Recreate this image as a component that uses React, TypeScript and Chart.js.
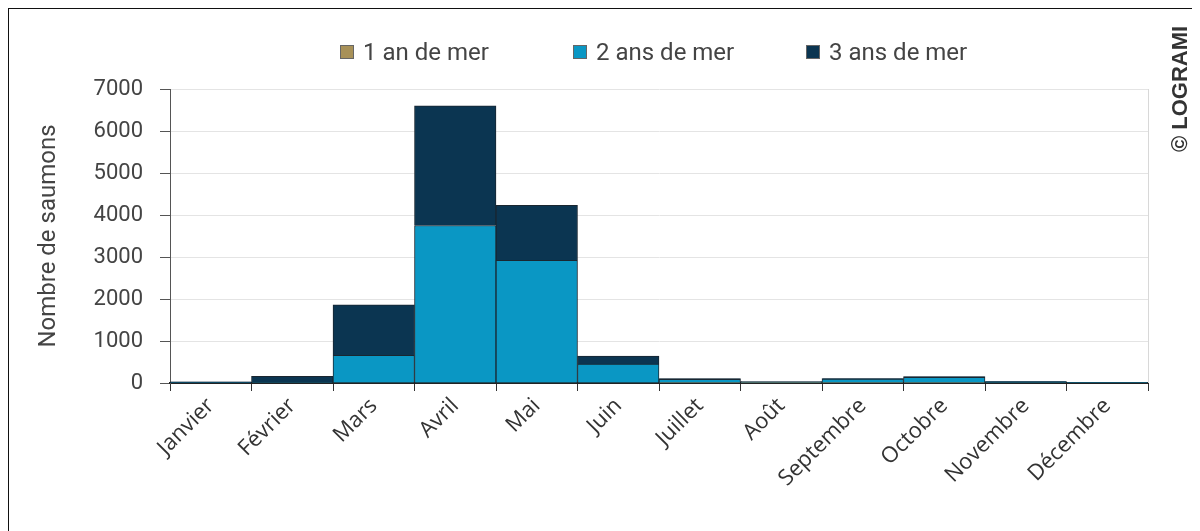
import React, { useEffect, useRef } from "react";
import { Chart, registerables } from "chart.js";

Chart.register(...registerables);

const months = [
  "Janvier", "Février", "Mars", "Avril", "Mai", "Juin",
  "Juillet", "Août", "Septembre", "Octobre", "Novembre", "Décembre",
];
const seriesNames = ["1 an de mer", "2 ans de mer", "3 ans de mer"];
const oneSeaWinter = [0, 0, 0, 0, 0, 0, 5, 5, 5, 5, 0, 0];
const twoSeaWinters = [10, 10, 660, 3750, 2920, 450, 80, 20, 90, 130, 30, 5];
const threeSeaWinters = [20, 150, 1200, 2850, 1310, 190, 20, 10, 10, 15, 10, 5];
const seriesColors = ["#a89158", "#0a97c4", "#0b3551"];
const yMax = 7000;
const yStep = 1000;

const plotBorderPlugin = {
  id: "plotRightBorder",
  beforeDatasetsDraw(chart: any) {
    const { ctx, chartArea } = chart;
    ctx.save();
    ctx.strokeStyle = "#d8d8d8";
    ctx.lineWidth = 1;
    ctx.beginPath();
    ctx.moveTo(chartArea.right + 0.5, chartArea.top);
    ctx.lineTo(chartArea.right + 0.5, chartArea.bottom);
    ctx.stroke();
    ctx.restore();
  },
};

export default function App() {
  const canvasRef = useRef<HTMLCanvasElement | null>(null);

  useEffect(() => {
    if (!canvasRef.current) return;
    const values = [oneSeaWinter, twoSeaWinters, threeSeaWinters];
    const chart = new Chart(canvasRef.current, {
      type: "bar",
      data: {
        labels: months,
        datasets: values.map((v, i) => ({
          label: seriesNames[i],
          data: v,
          backgroundColor: seriesColors[i],
          borderColor: "#1a2630",
          borderWidth: 1,
          barPercentage: 1,
          categoryPercentage: 1,
        })),
      },
      options: {
        responsive: false,
        animation: false,
        layout: { padding: { left: 20, top: 80, right: 50, bottom: 0 } },
        plugins: {
          legend: { display: false },
          tooltip: { enabled: false },
        },
        scales: {
          x: {
            stacked: true,
            grid: {
              display: true,
              drawOnChartArea: false,
              offset: true,
              tickLength: 8,
              tickColor: "#333",
              color: "#333",
            },
            border: { display: true, color: "#222", width: 2 },
            ticks: {
              maxRotation: 45,
              minRotation: 45,
              padding: 2,
              color: "#333",
              font: { family: "'Open Sans', sans-serif", size: 22 },
            },
            afterFit(scale: any) {
              scale.height = 186;
            },
          },
          y: {
            stacked: true,
            min: 0,
            max: yMax,
            ticks: {
              stepSize: yStep,
              padding: 17,
              color: "#444",
              font: { family: "Roboto, sans-serif", size: 22 },
              callback: (v: any) => String(v),
            },
            grid: {
              color: "#e4e4e4",
              tickColor: "#555",
              tickLength: 10,
            },
            border: { display: true, color: "#555", width: 1 },
            title: {
              display: true,
              text: "Nombre de saumons",
              color: "#444",
              padding: { top: 6, bottom: 0 },
              font: { family: "Roboto, sans-serif", size: 24 },
            },
            afterFit(scale: any) {
              scale.width = 141;
            },
          },
        },
      },
      plugins: [plotBorderPlugin],
    });
    return () => chart.destroy();
  }, []);

  return (
    <div
      style={{
        position: "relative",
        width: 1189,
        height: 560,
        margin: "-1px 0 0 -1px",
        borderLeft: "2px solid #111",
        borderTop: "2px solid #111",
        borderRight: "1px solid #ccc",
        background: "#fff",
      }}
    >
      <canvas ref={canvasRef} width={1189} height={560} style={{ display: "block" }} />
      <div
        style={{
          position: "absolute",
          left: 331,
          top: 29,
          display: "flex",
          fontFamily: "Roboto, sans-serif",
          fontSize: 24,
          color: "#444",
        }}
      >
        {seriesNames.map((name, i) => (
          <div
            key={name}
            style={{ display: "flex", alignItems: "center", width: 233 }}
          >
            <span
              style={{
                display: "inline-block",
                width: 12,
                height: 12,
                background: seriesColors[i],
                border: "1px solid #666",
                marginRight: 9,
              }}
            />
            <span>{name}</span>
          </div>
        ))}
      </div>
      <div
        style={{
          position: "absolute",
          left: 1160,
          top: 143,
          transformOrigin: "0 0",
          transform: "rotate(-90deg)",
          whiteSpace: "nowrap",
          fontFamily: "'Liberation Sans', Arial, sans-serif",
          fontWeight: "bold",
          fontSize: 22,
          color: "#333",
          lineHeight: "22px",
        }}
      >
        © LOGRAMI
      </div>
    </div>
  );
}
